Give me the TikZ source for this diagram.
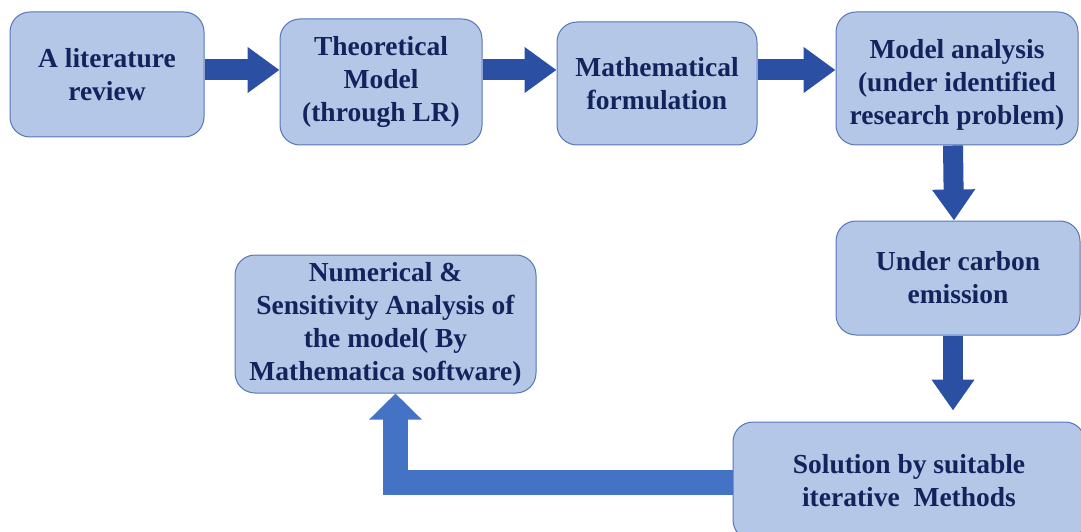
\documentclass[tikz,border=0pt]{standalone}
\usepackage{fontspec}
\setmainfont{Liberation Serif}
\usetikzlibrary{arrows.meta,calc}
\definecolor{boxfill}{HTML}{B4C7E7}
\definecolor{boxline}{HTML}{5676B8}
\definecolor{txtcol}{HTML}{13245C}
\definecolor{darrow}{HTML}{2A4FA3}
\definecolor{larrow}{HTML}{4472C4}
\begin{document}
\begin{tikzpicture}[x=1pt,y=1pt,
  boxtext/.style={align=center, text=txtcol, font=\fontsize{27.5}{33}\selectfont\bfseries, inner sep=0pt},
  box/.style={boxtext, draw=boxline, line width=1pt, fill=boxfill, rounded corners=20pt},
  harrow/.style={draw=darrow, line width=21pt, -{Triangle[length=32pt,width=44pt]}},
  varrow/.style={draw=darrow, line width=20pt, -{Triangle[length=31pt,width=41pt]}},
  barrow/.style={draw=larrow, line width=25pt, line join=miter, -{Triangle[length=26pt,width=51pt]}}]
\useasboundingbox (0,0) rectangle (1081,531);
\clip (0,0) rectangle (1081,531);
\node[box, minimum width=194pt, minimum height=125pt] (b1) at (107,456.5) {A literature\\review};
\node[box, minimum width=202pt, minimum height=126pt] (b2) at (381,449) {Theoretical\\Model\\(through LR)};
\node[box, minimum width=200pt, minimum height=123pt] (b3) at (657,447.5) {Mathematical\\formulation};
\node[box, minimum width=242pt, minimum height=133pt] (b4) at (957,452.5) {};
\node[boxtext] (t4) at ([yshift=-6pt]b4.center) {Model analysis\\(under identified\\research problem)};
\node[box, minimum width=244pt, minimum height=114pt] (b5) at (958,253) {Under carbon\\emission};
\node[box, minimum width=352pt, minimum height=118pt] (b6) at (909,50) {Solution by suitable\\iterative\ \ Methods};
\node[box, minimum width=301pt, minimum height=138pt] (b7) at (385.5,207) {Numerical \&\\Sensitivity Analysis of\\the model( By\\Mathematica software)};
\coordinate (a1) at (b1.east |- 0,461);
\coordinate (a2) at (b2.east |- 0,461);
\coordinate (a3) at (b3.east |- 0,461);
\draw[harrow] (a1) -- (a1 -| b2.west);
\draw[harrow] (a2) -- (a2 -| b3.west);
\draw[harrow] (a3) -- (a3 -| b4.west);
\draw[varrow] ([xshift=-4pt]b4.south) -- ([xshift=-4pt]b5.north);
\draw[varrow] ([xshift=-5pt]b5.south) -- ([xshift=-5pt,yshift=-75pt]b5.south);
\coordinate (c1) at (b6.west |- 0,49);
\draw[barrow] (c1) -| ([xshift=10pt]b7.south);
\end{tikzpicture}
\end{document}
